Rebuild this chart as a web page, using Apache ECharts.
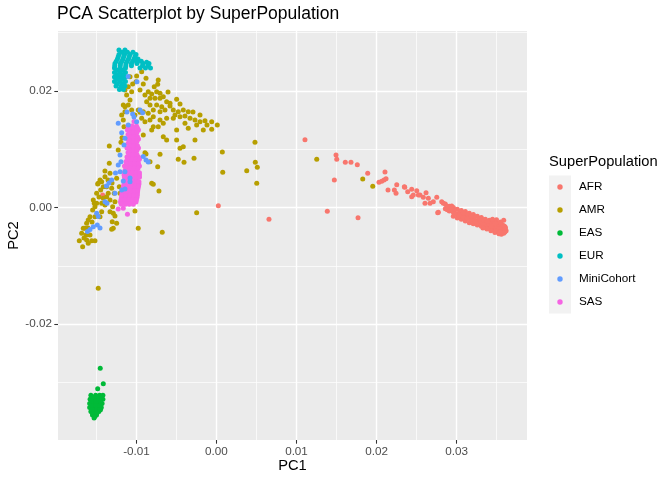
<!DOCTYPE html>
<html>
<head>
<meta charset="utf-8">
<script src="https://cdn.jsdelivr.net/npm/echarts@6/dist/echarts.min.js"></script>
<style>
  html, body { margin: 0; padding: 0; background: #fff; }
  #chart { width: 672px; height: 480px; }
</style>
</head>
<body>
<div id="chart"></div>
<script>
const populations = ['AFR', 'AMR', 'EAS', 'EUR', 'MiniCohort', 'SAS'];
const colors = ['#F8766D', '#B79F00', '#00BA38', '#00BFC4', '#619CFF', '#F564E3'];

const xTicks = [-0.01, 0, 0.01, 0.02, 0.03];
const xMinor = [-0.015, -0.005, 0.005, 0.015, 0.025, 0.035];
const yTicks = [-0.02, 0, 0.02];
const yMinor = [-0.03, -0.01, 0.01, 0.03];

// [PC1, PC2] per sample
const afr = [
  [-0.01423, 0.00214], [0.00023, 0.00031], [0.00656, -0.00202], [0.01106, 0.01163], [0.01494, 0.00901],
  [0.01503, 0.00827], [0.0161, 0.00775], [0.01681, 0.00775], [0.0176, 0.00734], [0.01473, 0.00472],
  [0.0189, 0.00587], [0.02106, 0.00609], [0.01385, -0.00065], [0.01769, -0.00175], [0.02031, 0.00432],
  [0.02065, 0.00449], [0.02094, 0.00472], [0.02119, 0.00494], [0.02144, 0.003], [0.02223, 0.003],
  [0.02244, 0.00244], [0.02253, 0.00391], [0.02353, 0.00346], [0.02348, 0.00357], [0.0239, 0.00271],
  [0.0244, 0.00312], [0.0244, 0.00185], [0.0246, 0.00214], [0.02503, 0.00288], [0.02544, 0.00214],
  [0.02523, 0.00214], [0.02619, 0.00254], [0.02585, 0.00175], [0.02648, 0.00158], [0.02753, 0.00175],
  [0.0271, 0.00099], [0.02765, -0.00089], [0.02815, 0.00099], [0.02835, 0.00072], [0.02606, 0.00072],
  [0.02669, 0.00072], [0.02773, -0.00082], [0.0294, 0.00026],
  [0.0286, 0.0006], [0.0286, -0.0002], [0.0288, 0.0002], [0.0291, 0.0002], [0.0291, -0.0006],
  [0.0296, 0.0], [0.0296, -0.0008], [0.0296, -0.0015], [0.0298, -0.0004],
  [0.0301, -0.0003], [0.0301, -0.0011], [0.0301, -0.0018], [0.0304, -0.0008],
  [0.0306, -0.0005], [0.0306, -0.0013], [0.0306, -0.002],
  [0.0311, -0.0007], [0.0311, -0.0015], [0.0311, -0.0023], [0.0313, -0.0011],
  [0.0316, -0.001], [0.0316, -0.0018], [0.0316, -0.0026], [0.0318, -0.0022],
  [0.0321, -0.0012], [0.0321, -0.002], [0.0321, -0.0028], [0.0323, -0.0016],
  [0.0326, -0.0015], [0.0326, -0.0023], [0.0326, -0.003], [0.0328, -0.0027],
  [0.0331, -0.0017], [0.0331, -0.0025], [0.0331, -0.0032], [0.0333, -0.0021],
  [0.0336, -0.002], [0.0336, -0.0027], [0.0336, -0.0034], [0.0338, -0.0031],
  [0.0341, -0.0022], [0.0341, -0.0029], [0.0341, -0.0036], [0.0343, -0.0025],
  [0.0346, -0.0024], [0.0346, -0.0031], [0.0346, -0.0038], [0.0348, -0.0035], [0.0348, -0.0043],
  [0.0351, -0.0027], [0.0351, -0.0033], [0.0351, -0.004], [0.035, -0.0021], [0.0353, -0.003], [0.0353, -0.0045],
  [0.0356, -0.0028], [0.0356, -0.0035], [0.0356, -0.0041], [0.0356, -0.0046], [0.0358, -0.0038],
  [0.036, -0.0032], [0.036, -0.0038], [0.0361, -0.0034], [0.0359, -0.0044], [0.0362, -0.004], [0.0359, -0.0022],
  [0.02885, -0.0004], [0.02935, -0.0002], [0.02985, -0.0011], [0.03035, -0.0014], [0.03085, -0.0009],
  [0.03085, -0.0017], [0.03135, -0.0019], [0.03185, -0.0014], [0.03235, -0.0024], [0.03285, -0.0019],
  [0.03335, -0.0029], [0.03385, -0.0024], [0.03435, -0.0033], [0.03485, -0.0027], [0.03535, -0.0037],
  [0.03585, -0.0031], [0.03605, -0.0042], [0.03545, -0.0042], [0.03485, -0.004], [0.0343, -0.004],
  [0.0338, -0.0037], [0.0333, -0.0035], [0.0361, -0.0036], [0.0355, -0.0025], [0.0345, -0.002]
];

const amr = [
  [-0.01081, 0.02244], [-0.00998, 0.02256], [-0.00935, 0.02329], [-0.01006, 0.02158], [-0.00881, 0.02216],
  [-0.01048, 0.02118], [-0.00915, 0.02118], [-0.00728, 0.02187], [-0.00735, 0.02113], [-0.00778, 0.02072],
  [-0.01103, 0.02072], [-0.0106, 0.01986], [-0.01144, 0.02015], [-0.01123, 0.0193], [-0.00894, 0.0193],
  [-0.00853, 0.01986], [-0.0081, 0.01947], [-0.00748, 0.01986], [-0.00706, 0.01959], [-0.00831, 0.01873],
  [-0.00769, 0.01873], [-0.00706, 0.01873], [-0.00665, 0.019], [-0.00623, 0.01815], [-0.00581, 0.01787],
  [-0.00498, 0.01856], [-0.01081, 0.01844], [-0.01103, 0.01758], [-0.01144, 0.01729], [-0.00873, 0.01815],
  [-0.00831, 0.01758], [-0.00748, 0.01758], [-0.00685, 0.01729], [-0.00644, 0.01672], [-0.00706, 0.01643],
  [-0.0079, 0.01672], [-0.0054, 0.01672], [-0.00478, 0.01643], [-0.00415, 0.01672], [-0.00353, 0.01643],
  [-0.00519, 0.01587], [-0.00456, 0.01557], [-0.00394, 0.01569], [-0.00331, 0.0153], [-0.00269, 0.01501],
  [-0.00206, 0.01472], [-0.00144, 0.01489], [-0.0006, 0.01472], [0.0001, 0.01415], [-0.0006, 0.01341],
  [-0.00165, 0.01329], [-0.00248, 0.01415], [-0.00394, 0.01444], [-0.00353, 0.01358], [-0.00498, 0.01329],
  [-0.0054, 0.0153], [-0.00623, 0.0153], [-0.00706, 0.01501], [-0.0079, 0.01557], [-0.00853, 0.01616],
  [-0.00915, 0.01643], [-0.00978, 0.01672], [-0.00935, 0.0153], [-0.00894, 0.01472], [-0.00831, 0.01501],
  [-0.0079, 0.01386], [-0.00728, 0.01386], [-0.00665, 0.01444], [-0.00915, 0.01244], [-0.0081, 0.01329],
  [-0.00665, 0.01214], [-0.00623, 0.01158], [-0.00498, 0.01158], [-0.00456, 0.01015], [-0.00415, 0.01043],
  [-0.00478, 0.00827], [-0.00406, 0.00775], [-0.00281, 0.00844], [-0.00269, 0.01158], [0.00073, 0.00952],
  [0.00078, 0.00604], [0.00481, 0.01118], [0.00485, 0.00775], [0.0051, 0.0069], [0.00378, 0.00631],
  [0.00503, 0.00415], [-0.00248, -0.00089], [-0.00678, -0.00425], [-0.00978, -0.00357], [-0.01019, -0.0006],
  [-0.0081, 0.00415], [-0.0079, 0.00398], [-0.00719, 0.00283], [-0.00735, 0.007], [-0.00831, 0.00786],
  [-0.00881, 0.00918], [-0.00894, 0.0094], [-0.00706, 0.00913], [-0.01194, 0.01118], [-0.01181, 0.01197],
  [-0.01165, 0.01501], [-0.01156, 0.01386], [-0.01185, 0.01587], [-0.01144, 0.01643], [-0.01165, 0.01758],
  [-0.0106, 0.01672], [-0.01019, 0.01587], [-0.00956, 0.01633], [-0.00581, 0.01741], [-0.00956, 0.02015],
  [-0.00606, 0.01981], [-0.00456, 0.01775], [-0.00294, 0.01638], [-0.00206, 0.01587], [-0.00119, 0.01415],
  [0.01253, 0.00827], [0.01828, 0.00489], [0.01953, 0.00364],
  [-0.0134, 0.01055], [-0.0134, 0.00758], [-0.01331, 0.00587], [-0.01394, 0.00528], [-0.01435, 0.00443],
  [-0.01478, 0.00415], [-0.01415, 0.00357], [-0.01448, 0.003], [-0.01498, 0.00244], [-0.0154, 0.00129],
  [-0.01498, 0.00072], [-0.01519, 0.00014], [-0.01548, -0.00043], [-0.01581, -0.00158], [-0.01623, -0.00271],
  [-0.01644, -0.00357], [-0.01685, -0.00443], [-0.01715, -0.00569], [-0.01673, -0.00672], [-0.01623, -0.00557],
  [-0.0156, -0.00569], [-0.01519, -0.00569], [-0.01581, -0.00472], [-0.01631, -0.00472], [-0.01373, 0.00357],
  [-0.01353, 0.00244], [-0.01415, 0.00158], [-0.01435, 0.00072], [-0.01373, 0.00185], [-0.01456, -0.00158],
  [-0.01331, -0.00072], [-0.01298, 0.00014], [-0.01269, 0.00099], [-0.01278, 0.00244], [-0.01206, 0.00244],
  [-0.01215, 0.00357], [-0.01248, 0.00501], [-0.01228, 0.00986], [-0.01519, -0.00158], [-0.01435, -0.00072],
  [-0.01394, 0.00043], [-0.0129, -0.00099], [-0.01248, -0.00271], [-0.0129, -0.00357], [-0.01665, -0.00357],
  [-0.01356, 0.00472], [-0.01306, 0.0042], [-0.01469, 0.0018], [-0.01606, -0.00352], [-0.01556, -0.00249],
  [-0.01656, -0.00523], [-0.01478, -0.01386], [-0.01303, -0.00244], [-0.0131, -0.00374], [-0.01269, -0.00146],
  [-0.01456, 0.00472], [-0.01394, 0.00626], [-0.01485, 0.00403], [-0.01528, 0.00072], [-0.01603, -0.00214],
  [-0.01603, -0.00614], [-0.01331, 0.00129], [-0.0131, 0.00329]
];

const eas = [
  [-0.01453, -0.02758], [-0.01415, -0.03022], [-0.01485, -0.03108],
  [-0.0157, -0.0322], [-0.0151, -0.0322], [-0.0146, -0.0322], [-0.0142, -0.0322],
  [-0.0158, -0.0329], [-0.0153, -0.0329], [-0.0148, -0.0329], [-0.0142, -0.0329],
  [-0.01585, -0.0336], [-0.0153, -0.0336], [-0.0148, -0.0336], [-0.0143, -0.0336],
  [-0.01585, -0.0343], [-0.0153, -0.0343], [-0.0148, -0.0343], [-0.0144, -0.0343],
  [-0.0157, -0.035], [-0.0152, -0.035], [-0.0147, -0.035],
  [-0.0155, -0.0356], [-0.015, -0.0356],
  [-0.0153, -0.0361],
  [-0.01555, -0.0325], [-0.01505, -0.034], [-0.0145, -0.0332], [-0.0156, -0.0347], [-0.015, -0.0353], [-0.0145, -0.0347],
  [-0.0154, -0.03255], [-0.0149, -0.03255], [-0.0144, -0.03255],
  [-0.0156, -0.03325], [-0.01505, -0.03325], [-0.0145, -0.03325],
  [-0.0156, -0.03395], [-0.01505, -0.03395], [-0.01455, -0.03395],
  [-0.01555, -0.03465], [-0.015, -0.03465], [-0.0146, -0.03465],
  [-0.0155, -0.0353], [-0.01495, -0.0353], [-0.0152, -0.03585]
];

const eur = [
  [-0.01219, 0.027], [-0.01144, 0.027],
  [-0.01219, 0.02624], [-0.0115, 0.02624], [-0.01081, 0.02624], [-0.01006, 0.02624],
  [-0.01238, 0.02547], [-0.01169, 0.02547], [-0.011, 0.02547], [-0.01031, 0.02547], [-0.00981, 0.02547],
  [-0.01269, 0.0247], [-0.012, 0.0247], [-0.01131, 0.0247], [-0.01063, 0.0247], [-0.00994, 0.0247],
  [-0.00919, 0.0247], [-0.00844, 0.0247], [-0.00873, 0.0249],
  [-0.01275, 0.02393], [-0.01206, 0.02393], [-0.01138, 0.02393], [-0.00956, 0.02393], [-0.00888, 0.02393],
  [-0.00825, 0.02393],
  [-0.01275, 0.02316], [-0.01206, 0.02316], [-0.01138, 0.02316],
  [-0.01275, 0.02238], [-0.01206, 0.02238], [-0.01138, 0.02238],
  [-0.01275, 0.02161], [-0.01206, 0.02161], [-0.01138, 0.02161],
  [-0.01256, 0.02084], [-0.01188, 0.02084], [-0.01144, 0.02084],
  [-0.01213, 0.02024], [-0.01163, 0.02024],
  [-0.01181, 0.02662], [-0.01113, 0.02662], [-0.01044, 0.02662],
  [-0.01228, 0.02585], [-0.0116, 0.02585], [-0.01091, 0.02585], [-0.01019, 0.02585],
  [-0.01253, 0.02508], [-0.01184, 0.02508], [-0.01116, 0.02508], [-0.01047, 0.02508], [-0.00988, 0.02508], [-0.0094, 0.02508],
  [-0.01272, 0.02431], [-0.01203, 0.02431], [-0.01134, 0.02431], [-0.01063, 0.02431], [-0.00925, 0.02431], [-0.00856, 0.02431],
  [-0.0124, 0.02354], [-0.01172, 0.02354], [-0.0124, 0.02277], [-0.01172, 0.02277],
  [-0.0124, 0.022], [-0.01172, 0.022], [-0.01238, 0.02122], [-0.01172, 0.02122], [-0.012, 0.02054]
];

const mini = [
  [-0.01103, 0.02247], [-0.00994, 0.02158], [-0.01048, 0.01604], [-0.00923, 0.01626], [-0.00998, 0.01472],
  [-0.01228, 0.01444], [-0.01103, 0.01415], [-0.01185, 0.01283], [-0.01144, 0.01187], [-0.01156, 0.01072],
  [-0.01206, 0.00901], [-0.01194, 0.00786], [-0.01228, 0.00729], [-0.01206, 0.00614], [-0.01144, 0.00614],
  [-0.00915, 0.00875], [-0.00881, 0.00815], [-0.00853, 0.0078], [-0.01081, 0.00443], [-0.01165, 0.00455],
  [-0.01185, 0.003], [-0.01144, 0.00317], [-0.01269, 0.00244], [-0.0131, 0.00472], [-0.01344, 0.0042],
  [-0.01375, 0.00369], [-0.01394, 0.00099], [-0.01369, 0.00072], [-0.01498, -0.00099], [-0.01478, -0.00154],
  [-0.0149, -0.003], [-0.0154, -0.00329], [-0.01581, -0.00377], [-0.01613, -0.00412], [-0.01081, 0.00506],
  [-0.00956, 0.01672], [-0.01031, 0.01552], [-0.01119, 0.01638], [-0.01263, 0.00592], [-0.01456, -0.00352]
];

const sas = [
  [-0.01031, 0.01475],
  [-0.01106, 0.01398], [-0.01056, 0.01398], [-0.01, 0.01398],
  [-0.01113, 0.01329], [-0.01063, 0.01329], [-0.01013, 0.01329], [-0.00975, 0.01329],
  [-0.01106, 0.01252], [-0.01056, 0.01252], [-0.01006, 0.01252],
  [-0.01113, 0.01175], [-0.01063, 0.01175], [-0.01013, 0.01175], [-0.00975, 0.01175],
  [-0.01106, 0.01098], [-0.01056, 0.01098], [-0.01006, 0.01098],
  [-0.01119, 0.01021], [-0.01069, 0.01021], [-0.01019, 0.01021], [-0.00975, 0.01021],
  [-0.01106, 0.00943], [-0.01056, 0.00943], [-0.01006, 0.00943],
  [-0.01119, 0.00866], [-0.01069, 0.00866], [-0.01019, 0.00866], [-0.00975, 0.00866],
  [-0.01131, 0.00789], [-0.01081, 0.00789], [-0.01031, 0.00789], [-0.00981, 0.00789],
  [-0.0115, 0.00712], [-0.011, 0.00712], [-0.0105, 0.00712], [-0.01, 0.00712], [-0.00963, 0.00712],
  [-0.01144, 0.00635], [-0.01094, 0.00635], [-0.01044, 0.00635], [-0.00994, 0.00635],
  [-0.01156, 0.00557], [-0.01106, 0.00557], [-0.01056, 0.00557], [-0.01006, 0.00557], [-0.00963, 0.00557],
  [-0.01144, 0.0048], [-0.01094, 0.0048], [-0.01044, 0.0048], [-0.00994, 0.0048],
  [-0.01156, 0.00403], [-0.01106, 0.00403], [-0.01056, 0.00403], [-0.01006, 0.00403], [-0.00969, 0.00403],
  [-0.01169, 0.00326], [-0.01119, 0.00326], [-0.01069, 0.00326], [-0.01019, 0.00326], [-0.00981, 0.00326],
  [-0.01181, 0.00249], [-0.01131, 0.00249], [-0.01081, 0.00249], [-0.01031, 0.00249], [-0.00988, 0.00249],
  [-0.01188, 0.00172], [-0.01138, 0.00172], [-0.01088, 0.00172], [-0.01038, 0.00172], [-0.00994, 0.00172],
  [-0.012, 0.00094], [-0.0115, 0.00094], [-0.011, 0.00094], [-0.0105, 0.00094], [-0.01006, 0.00094],
  [-0.01228, -0.00026], [-0.01165, -0.00014], [-0.01113, -0.00117],
  [-0.01081, 0.01363], [-0.01031, 0.01363], [-0.00988, 0.01363],
  [-0.01088, 0.0129], [-0.01038, 0.0129], [-0.00994, 0.0129],
  [-0.01081, 0.01213], [-0.01031, 0.01213], [-0.00988, 0.01213],
  [-0.01088, 0.01137], [-0.01038, 0.01137], [-0.00994, 0.01137],
  [-0.01081, 0.0106], [-0.01031, 0.0106], [-0.00988, 0.0106],
  [-0.01088, 0.00982], [-0.01038, 0.00982], [-0.00994, 0.00982],
  [-0.01094, 0.00905], [-0.01044, 0.00905], [-0.00994, 0.00905],
  [-0.01106, 0.00828], [-0.01056, 0.00828], [-0.01006, 0.00828], [-0.00963, 0.00828],
  [-0.01125, 0.0075], [-0.01075, 0.0075], [-0.01025, 0.0075], [-0.00975, 0.0075],
  [-0.01131, 0.00673], [-0.01081, 0.00673], [-0.01031, 0.00673], [-0.00981, 0.00673],
  [-0.0115, 0.00596], [-0.011, 0.00596], [-0.0105, 0.00596], [-0.01, 0.00596], [-0.00963, 0.00596],
  [-0.0115, 0.00519], [-0.011, 0.00519], [-0.0105, 0.00519], [-0.01, 0.00519], [-0.00963, 0.00519],
  [-0.0115, 0.00441], [-0.011, 0.00441], [-0.0105, 0.00441], [-0.01, 0.00441], [-0.00969, 0.00441],
  [-0.01163, 0.00365], [-0.01113, 0.00365], [-0.01063, 0.00365], [-0.01013, 0.00365], [-0.00975, 0.00365],
  [-0.01175, 0.00287], [-0.01125, 0.00287], [-0.01075, 0.00287], [-0.01025, 0.00287], [-0.00985, 0.00287],
  [-0.01185, 0.0021], [-0.01135, 0.0021], [-0.01085, 0.0021], [-0.01035, 0.0021], [-0.0099, 0.0021],
  [-0.01194, 0.00133], [-0.01144, 0.00133], [-0.01094, 0.00133], [-0.01044, 0.00133], [-0.01, 0.00133],
  [-0.0119, 0.00055], [-0.0114, 0.00055], [-0.0109, 0.00055], [-0.0104, 0.00055]
];

const groups = [afr, amr, eas, eur, mini, sas];

const font = '"Liberation Sans", Arial, Helvetica, sans-serif';
const xRange = [-0.01981, 0.03881];
const yRange = [-0.03988, 0.03027];

// legend key: small dot inside a 22x23 box (corner specks keep the box size)
const keyIcon = 'path://M0,0h0.05v0.05h-0.05z M22,23h-0.05v-0.05h0.05z ' +
  'M13.7,11.5a2.7,2.7 0 1,1 -5.4,0a2.7,2.7 0 1,1 5.4,0z';

const majorAxis = (ticks, name, gap, extra) => Object.assign({
  type: 'value',
  name,
  nameLocation: 'middle',
  nameGap: gap,
  nameMoveOverlap: false,
  nameTextStyle: { color: '#000', fontSize: 14.7, fontFamily: font },
  axisLine: { show: false, onZero: false },
  axisTick: {
    show: true, length: 3.7, customValues: ticks,
    lineStyle: { color: '#333333', width: 1.07 },
  },
  axisLabel: {
    customValues: ticks, color: '#4D4D4D', fontSize: 11.7, fontFamily: font, margin: 6,
    formatter: (v) => v.toFixed(2),
  },
  splitLine: { show: true, lineStyle: { color: '#FFFFFF', width: 1.4 } },
}, extra);

const minorAxis = (ticks, extra) => Object.assign({
  type: 'value',
  axisLine: { show: false, onZero: false },
  axisTick: { show: false, customValues: ticks },
  axisLabel: { show: false, customValues: ticks },
  splitLine: { show: true, lineStyle: { color: '#FFFFFF', width: 0.7 } },
}, extra);

const chart = echarts.init(document.getElementById('chart'));
chart.setOption({
  animation: false,
  color: colors,
  title: [
    {
      text: 'PCA Scatterplot by SuperPopulation',
      left: 57, top: 5, padding: 0,
      textStyle: { color: '#000', fontSize: 17.5, fontWeight: 'normal', fontFamily: font },
    },
    {
      text: 'SuperPopulation',
      left: 549, top: 154, padding: 0,
      textStyle: { color: '#000', fontSize: 14.7, fontWeight: 'normal', fontFamily: font },
    },
  ],
  graphic: [
    { type: 'rect', left: 549, top: 175.5, shape: { width: 22, height: 138 }, style: { fill: '#F2F2F2' }, z: -1 },
  ],
  legend: {
    orient: 'vertical',
    left: 549,
    top: 175.5,
    padding: 0,
    itemWidth: 22,
    itemHeight: 23,
    itemGap: 0,
    icon: keyIcon,
    selectedMode: false,
    data: populations,
    textStyle: { color: '#000', fontSize: 11.7, fontFamily: font, padding: [0, 0, 0, 3] },
  },
  grid: {
    left: 58, right: 145, top: 31, bottom: 40,
    outerBoundsMode: 'none',
    show: true, backgroundColor: '#EBEBEB', borderWidth: 0,
  },
  xAxis: [
    majorAxis(xTicks, 'PC1', 18, { min: xRange[0], max: xRange[1], position: 'bottom' }),
    minorAxis(xMinor, { min: xRange[0], max: xRange[1], position: 'bottom' }),
  ],
  yAxis: [
    majorAxis(yTicks, 'PC2', 37, { min: yRange[0], max: yRange[1], position: 'left' }),
    minorAxis(yMinor, { min: yRange[0], max: yRange[1], position: 'left' }),
  ],
  series: populations.map((name, i) => ({
    name,
    type: 'scatter',
    xAxisIndex: 0,
    yAxisIndex: 0,
    symbol: 'circle',
    symbolSize: 5,
    itemStyle: { color: colors[i], opacity: 1 },
    emphasis: { disabled: true },
    z: name === 'MiniCohort' ? 3 : 2,
    data: groups[i],
  })),
});
</script>
</body>
</html>
